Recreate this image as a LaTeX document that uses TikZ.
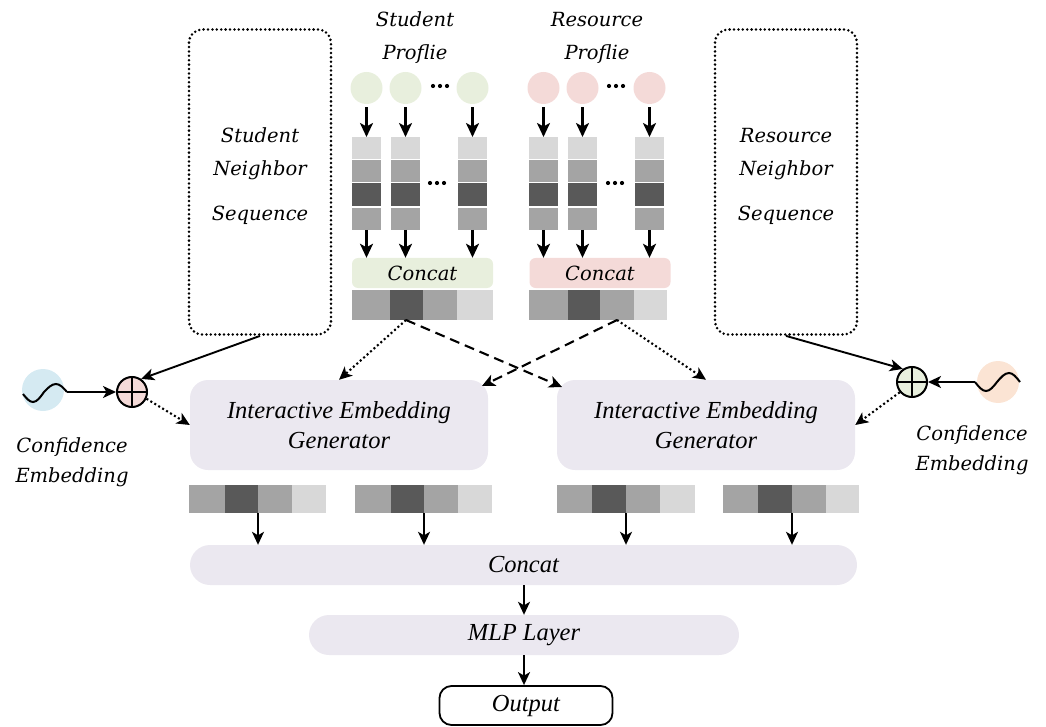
\documentclass[tikz,border=0pt]{standalone}
\usepackage{fontspec}
\setmainfont{Liberation Serif}
\newfontfamily\lblfont{DejaVu Serif}
\usetikzlibrary{arrows.meta,calc}

\definecolor{gfill}{HTML}{E8EFDD}
\definecolor{rfill}{HTML}{F4DAD8}
\definecolor{lav}{HTML}{EBE8F0}
\definecolor{cellL}{HTML}{D8D8D8}
\definecolor{cellM}{HTML}{A4A4A4}
\definecolor{cellD}{HTML}{595959}
\definecolor{bfill}{HTML}{D5EAF2}
\definecolor{pfill}{HTML}{FBE4D4}

% one vertical embedding column: four cells, top/bottom coordinates #1t, #1b
\newcommand\vcol[2]{%
  \fill[cellL] (#2,137) rectangle ++(29,22);
  \fill[cellM] (#2,160) rectangle ++(29,22);
  \fill[cellD] (#2,183) rectangle ++(29,23);
  \fill[cellM] (#2,208) rectangle ++(29,22);
  \coordinate (#1t) at ({#2+14.5},137);
  \coordinate (#1b) at ({#2+14.5},230);
}
% one horizontal embedding bar of four cells
\newcommand\embbar[7]{%
  \fill[cellM] (#1,#6) rectangle (#2,#7);
  \fill[cellD] (#2,#6) rectangle (#3,#7);
  \fill[cellM] (#3,#6) rectangle (#4,#7);
  \fill[cellL] (#4,#6) rectangle (#5,#7);
}

\begin{document}
\begin{tikzpicture}[x=1pt,y=-1pt,
  main/.style={font=\fontsize{24.5}{30}\selectfont\itshape},
  lbl/.style={font=\lblfont\itshape\fontsize{19.5}{33}\selectfont, align=center},
  arr/.style={-{Stealth[length=14pt,width=13pt,inset=3.5pt]}, line width=2.3pt},
  thinarr/.style={-{Stealth[length=13pt,width=12pt,inset=3.5pt]}, line width=1.9pt},
  dotarr/.style={thinarr, line width=2.1pt, dash pattern=on 2pt off 2.6pt},
  dasharr/.style={thinarr, line width=2.1pt, dash pattern=on 10pt off 6pt},
  nbox/.style={draw, line width=2.8pt, line cap=round, dash pattern=on 0pt off 4.4pt,
               rounded corners=13pt, minimum width=142pt, minimum height=305pt, inner sep=0},
  dotc/.style={circle, minimum size=32pt, inner sep=0},
  wavec/.style={circle, minimum size=42pt, inner sep=0},
  oplus/.style={circle, draw, line width=2pt, minimum size=30pt, inner sep=0,
    path picture={\draw[line width=1.8pt]
      (path picture bounding box.north) -- (path picture bounding box.south)
      (path picture bounding box.east) -- (path picture bounding box.west);}},
  ieg/.style={main, fill=lav, rounded corners=18pt, minimum width=298pt, minimum height=90pt,
              align=center, inner sep=0},
  pill/.style={main, fill=lav, rounded corners=20pt, minimum height=40pt, inner sep=0},
  catbox/.style={lbl, rounded corners=6pt, minimum width=141pt, minimum height=30pt, inner sep=0},
  dots/.style={fill=black, circle, inner sep=0, minimum size=4.2pt}
]
\useasboundingbox (0,0) rectangle (1046,727);

% neighbour sequences
\node[nbox] (sns) at (260,182) {};
\node[nbox] (rns) at (786,182) {};
\node[lbl] at (260,176) {Student\\Neighbor\\[12pt]Sequence};
\node[lbl] at (786,176) {Resource\\Neighbor\\[12pt]Sequence};

% profile titles
\node[lbl] at (415,38) {Student\\Proflie};
\node[lbl] at (597,38) {Resource\\Proflie};

% profile feature circles
\node[dotc, fill=gfill] (g1) at (366.5,88) {};
\node[dotc, fill=gfill] (g2) at (405.5,88) {};
\node[dotc, fill=gfill] (g3) at (472.5,88) {};
\node[dotc, fill=rfill] (r1) at (543.5,88) {};
\node[dotc, fill=rfill] (r2) at (582.5,88) {};
\node[dotc, fill=rfill] (r3) at (649.5,88) {};
\foreach \x in {433,440,447, 609,616,623} \node[dots] at (\x,86) {};

% embedding columns
\vcol{gc1}{352} \vcol{gc2}{391} \vcol{gc3}{458}
\vcol{rc1}{529} \vcol{rc2}{568} \vcol{rc3}{635}
\foreach \x in {430,437,444, 608,615,622} \node[dots] at (\x,183) {};

% concat boxes
\node[catbox, fill=gfill] (gcat) at (422.5,273) {Concat};
\node[catbox, fill=rfill] (rcat) at (600,273) {Concat};
\embbar{352}{390}{423}{457}{493}{290}{320}
\embbar{529}{568}{600}{634}{667}{290}{320}
\coordinate (gout) at (406,320);
\coordinate (rout) at (617,320);

\foreach \i in {1,2,3}{
  \draw[arr, shorten <=3pt] (g\i) -- (gc\i t);
  \draw[arr, shorten <=3pt] (r\i) -- (rc\i t);
  \draw[arr] (gc\i b) -- (gc\i b |- gcat.north);
  \draw[arr] (rc\i b) -- (rc\i b |- rcat.north);
}

% interactive embedding generators
\node[ieg] (ieg1) at (339,425) {Interactive Embedding\\Generator};
\node[ieg] (ieg2) at (706,425) {Interactive Embedding\\Generator};
\coordinate (ieg1ne) at (482,386);
\coordinate (ieg2nw) at (562,387);

\draw[dotarr] (gout) -- (ieg1.north);
\draw[dasharr] (gout) -- (ieg2nw);
\draw[dasharr] (rout) -- (ieg1ne);
\draw[dotarr] (rout) -- (ieg2.north);

% confidence embeddings
\node[wavec, fill=bfill] (cb) at (43,390) {};
\node[wavec, fill=pfill] (cp) at (998,382) {};
\draw[line width=2pt] (23,394) sin (33,402) cos (44,392) sin (56,384) cos (67,392) coordinate (cbe);
\draw[line width=2pt] (975,382) sin (986,391) cos (997,382) sin (1009,373) cos (1020,382);
\coordinate (cpe) at (975,382);
\node[oplus, fill=rfill] (p1) at (132,392) {};
\node[oplus, fill=gfill] (p2) at (912,382) {};
\node[lbl, font=\lblfont\itshape\fontsize{19.5}{30}\selectfont] at (72,462) {Confidence\\Embedding};
\node[lbl, font=\lblfont\itshape\fontsize{19.5}{30}\selectfont] at (972,450) {Confidence\\Embedding};

\draw[thinarr] (cbe) -- (p1.west);
\draw[thinarr] (cpe) -- (p2.east);
\draw[thinarr] (sns.south) -- (p1.55);
\draw[thinarr] (rns.south) -- (p2.125);
\draw[dotarr] (p1.-25) -- (ieg1.west);
\draw[dotarr] (p2.-140) -- (ieg2.east);

% generator outputs
\embbar{189}{225}{258}{292}{326}{485}{513}
\embbar{355}{391}{424}{458}{492}{485}{513}
\embbar{557}{592}{626}{660}{695}{485}{513}
\embbar{723}{758}{792}{826}{859}{485}{513}
\coordinate (o1) at (258,513);
\coordinate (o2) at (424,513);
\coordinate (o3) at (626,513);
\coordinate (o4) at (792,513);

% final layers
\node[pill, minimum width=667pt] (bigcat) at (523.5,565) {Concat};
\node[pill, minimum width=430pt] (mlp) at (524,635) {MLP Layer};
\node[main, draw, line width=1.8pt, rounded corners=12pt, minimum width=173pt,
      minimum height=39pt, inner sep=0, fill=white] (out) at (526,705.5) {Output};

\foreach \i in {1,...,4}
  \draw[thinarr] (o\i) -- (o\i |- bigcat.north);
\draw[thinarr] (bigcat.south -| mlp.north) -- (mlp.north);
\draw[thinarr] (mlp.south) -- (mlp.south |- out.north);
\end{tikzpicture}
\end{document}
